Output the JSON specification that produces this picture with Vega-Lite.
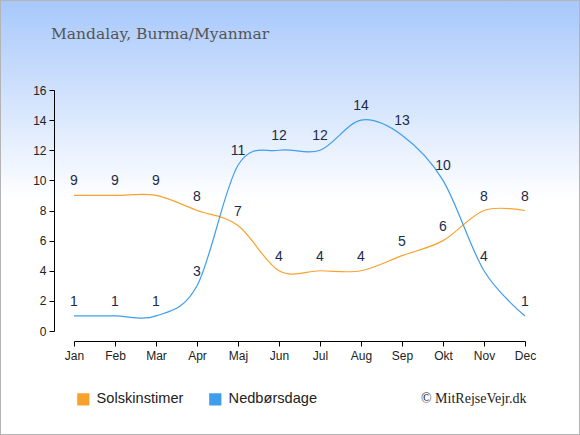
{
  "$schema": "https://vega.github.io/schema/vega-lite/v6.json",
  "width": 580,
  "height": 435,
  "padding": 0,
  "autosize": "none",
  "title": {
    "text": "Mandalay, Burma/Myanmar",
    "anchor": "start",
    "frame": "group",
    "offset": -42,
    "dx": 51,
    "font": "DejaVu Serif",
    "fontSize": 15.5,
    "fontWeight": "normal",
    "color": "#555555"
  },
  "config": {
    "view": {
      "fill": {
        "gradient": "linear",
        "x1": 0, "y1": 0, "x2": 0, "y2": 1,
        "stops": [
          {"offset": 0, "color": "#a7c8fb"},
          {"offset": 0.46, "color": "#ffffff"},
          {"offset": 1, "color": "#ffffff"}
        ]
      },
      "stroke": "#b4b4b4",
      "strokeWidth": 2
    },
    "axis": {
      "labelFont": "Liberation Sans",
      "labelFontSize": 12,
      "labelColor": "#222222",
      "domainColor": "#000000",
      "tickColor": "#000000",
      "tickSize": 5,
      "grid": false
    }
  },
  "data": {
    "values": [
      {"month": "Jan", "series": "Solskinstimer", "value": 9},
      {"month": "Feb", "series": "Solskinstimer", "value": 9},
      {"month": "Mar", "series": "Solskinstimer", "value": 9},
      {"month": "Apr", "series": "Solskinstimer", "value": 8},
      {"month": "Maj", "series": "Solskinstimer", "value": 7},
      {"month": "Jun", "series": "Solskinstimer", "value": 4},
      {"month": "Jul", "series": "Solskinstimer", "value": 4},
      {"month": "Aug", "series": "Solskinstimer", "value": 4},
      {"month": "Sep", "series": "Solskinstimer", "value": 5},
      {"month": "Okt", "series": "Solskinstimer", "value": 6},
      {"month": "Nov", "series": "Solskinstimer", "value": 8},
      {"month": "Dec", "series": "Solskinstimer", "value": 8},
      {"month": "Jan", "series": "Nedbørsdage", "value": 1},
      {"month": "Feb", "series": "Nedbørsdage", "value": 1},
      {"month": "Mar", "series": "Nedbørsdage", "value": 1},
      {"month": "Apr", "series": "Nedbørsdage", "value": 3},
      {"month": "Maj", "series": "Nedbørsdage", "value": 11},
      {"month": "Jun", "series": "Nedbørsdage", "value": 12},
      {"month": "Jul", "series": "Nedbørsdage", "value": 12},
      {"month": "Aug", "series": "Nedbørsdage", "value": 14},
      {"month": "Sep", "series": "Nedbørsdage", "value": 13},
      {"month": "Okt", "series": "Nedbørsdage", "value": 10},
      {"month": "Nov", "series": "Nedbørsdage", "value": 4},
      {"month": "Dec", "series": "Nedbørsdage", "value": 1}
    ]
  },
  "encoding": {
    "x": {
      "field": "month",
      "type": "ordinal",
      "sort": null,
      "scale": {"type": "point", "padding": 0, "range": [74, 525]},
      "axis": {
        "labelAngle": 0,
        "offset": -94,
        "labelPadding": 4,
        "title": "© MitRejseVejr.dk",
        "titleFont": "Liberation Serif",
        "titleFontSize": 14,
        "titleFontWeight": "normal",
        "titleColor": "#222222",
        "titleAnchor": "end",
        "titleAlign": "right",
        "titleX": 526,
        "titleY": 50
      }
    },
    "y": {
      "field": "value",
      "type": "quantitative",
      "scale": {"domain": [0, 16], "range": [331, 90], "nice": false},
      "axis": {"values": [0, 2, 4, 6, 8, 10, 12, 14, 16], "offset": -54, "title": null, "labelPadding": 3}
    },
    "color": {
      "field": "series",
      "type": "nominal",
      "sort": ["Solskinstimer", "Nedbørsdage"],
      "scale": {"domain": ["Solskinstimer", "Nedbørsdage"], "range": ["#f9a12e", "#3f9ded"]},
      "legend": {
        "title": null,
        "orient": "none",
        "legendX": 76,
        "legendY": 392,
        "direction": "horizontal",
        "symbolType": "square",
        "symbolSize": 115,
        "labelFont": "Liberation Sans",
        "labelFontSize": 14.6,
        "labelColor": "#222222",
        "columnPadding": 22,
        "labelOffset": 6,
        "encode": {
          "symbols": {
            "update": {
              "fill": {"scale": "color", "field": "value"},
              "stroke": {"value": "transparent"}
            }
          }
        }
      }
    }
  },
  "layer": [
    {
      "mark": {"type": "line", "interpolate": "cardinal", "strokeWidth": 1.2}
    },
    {
      "mark": {
        "type": "text",
        "dy": -14,
        "baseline": "middle",
        "font": "Liberation Sans",
        "fontSize": 14,
        "color": "#1c2b48"
      },
      "encoding": {
        "text": {"field": "value", "type": "quantitative"},
        "color": {"value": "#1c2b48"}
      }
    }
  ]
}
